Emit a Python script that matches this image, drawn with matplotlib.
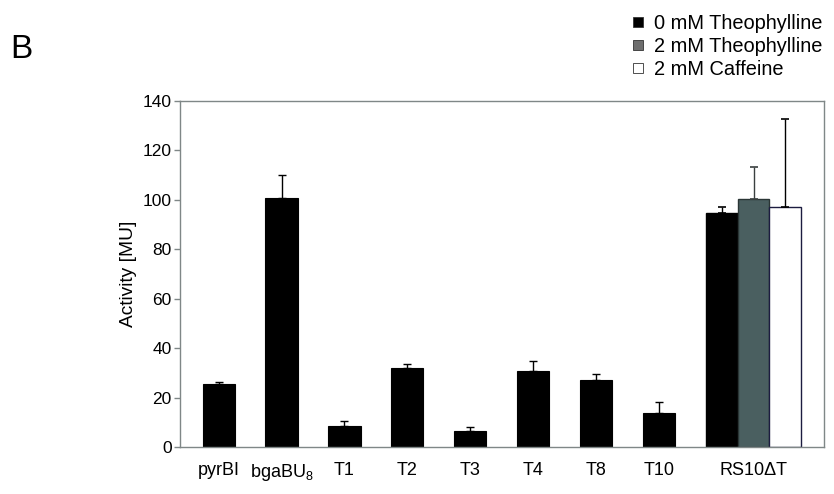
import matplotlib
matplotlib.use("Agg")
import matplotlib.pyplot as plt
from matplotlib.lines import Line2D
import numpy as np

plt.rcParams['font.family'] = ['Liberation Sans', 'DejaVu Sans']
plt.rcParams['mathtext.fontset'] = 'custom'
plt.rcParams['mathtext.rm'] = 'Liberation Sans'
plt.rcParams['mathtext.it'] = 'Liberation Sans:italic'

# single constructs, 0 mM theophylline only
constructs = ['pyrBI', 'bgaBU$_8$', 'T1', 'T2', 'T3', 'T4', 'T8', 'T10']
activity = [25.4, 100.9, 8.4, 31.8, 6.4, 30.6, 27.1, 13.7]
activity_err = [0.8, 9.2, 2.3, 1.6, 1.8, 4.3, 2.6, 4.6]

# RS10dT construct under three conditions
group_label = 'RS10\u0394T'
conditions = ['0 mM Theophylline', '2 mM Theophylline', '2 mM Caffeine']
group_activity = [94.8, 100.2, 97.1]
group_err = [2.2, 13.3, 35.7]

spine_col = '#7f8787'
bar_fill = ['black', '#4a5f60', 'white']
bar_edge = ['black', '#2a3535', '#1c1c40']
err_col = ['black', '#3a4040', 'black']
legend_fill = ['black', '#6e6e6e', 'white']

fig = plt.figure(figsize=(8.34, 4.94), dpi=100)
ax = fig.add_axes([0.2158, 0.0951, 0.7722, 0.7004])

width = 0.51
x = np.arange(len(constructs))
ax.bar(x, activity, width, color='black', edgecolor='black', linewidth=0.8,
       yerr=[np.zeros(len(activity)), activity_err],
       error_kw=dict(ecolor='black', elinewidth=1, capsize=3, capthick=1))

group_center = len(constructs) + 0.5
for i in range(3):
    xi = group_center + (i - 1) * 0.5
    ax.bar(xi, group_activity[i], 0.5, color=bar_fill[i], edgecolor=bar_edge[i],
           linewidth=1, yerr=[[0], [group_err[i]]],
           error_kw=dict(ecolor=err_col[i], elinewidth=1, capsize=3, capthick=1.2))

ax.set_xlim(-0.614, 9.62)
ax.set_ylim(0, 140)
ax.set_yticks(np.arange(0, 141, 20))
ax.set_xticks(list(x) + [group_center])
ax.set_xticklabels(constructs + [group_label])
ax.tick_params(axis='x', length=0, pad=11, labelsize=13)
ax.tick_params(axis='y', length=4, width=1, color=spine_col, labelsize=12.5, pad=2)
for s in ax.spines.values():
    s.set_color(spine_col)
    s.set_linewidth(1)
ax.set_ylabel('Activity [MU]', fontsize=13.8, labelpad=4)

handles = [Line2D([], [], linestyle='none', marker='s', markersize=7.5,
                  markerfacecolor=legend_fill[i], markeredgecolor='#333333',
                  markeredgewidth=0.6) for i in range(3)]
fig.legend(handles, conditions, loc='upper left', bbox_to_anchor=(0.740, 1.0),
           frameon=False, fontsize=14.4, handlelength=0.7, handletextpad=0.45,
           labelspacing=0.2, borderaxespad=0.3)

fig.text(0.012, 0.882, 'B', fontsize=24)

fig.savefig('out.png', dpi=100)
